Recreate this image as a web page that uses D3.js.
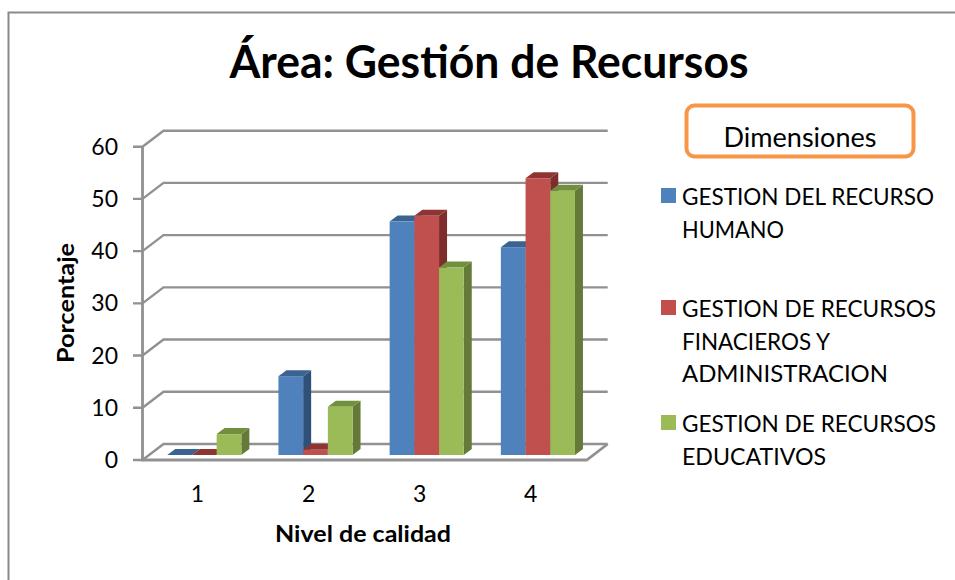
<!DOCTYPE html>
<html><head><meta charset="utf-8">
<script src="https://cdn.jsdelivr.net/npm/d3@7"></script>
<style>html,body{margin:0;background:#fff}svg{display:block}text{font-family:"Lato",sans-serif;fill:#000}</style>
</head><body><svg id="c" width="955" height="580"></svg>
<script>
const categories = ["1","2","3","4"];
const seriesNames = ["GESTION DEL RECURSO HUMANO","GESTION DE RECURSOS FINACIEROS Y ADMINISTRACION","GESTION DE RECURSOS EDUCATIVOS"];
const recursoHumano = [0,15.1,44.7,39.8];
const recursosFinancieros = [0,1,45.8,53];
const recursosEducativos = [4,9.25,35.9,50.6];
const yTicks = [0,10,20,30,40,50,60];
const faces = [["#4f81bd","#3b6391","#2f5078"],["#c0504d","#8e3533","#7c2d2c"],["#9bbb59","#718f3d","#657a38"]];
const legendLines = [["GESTION DEL RECURSO","HUMANO"],["GESTION DE RECURSOS","FINACIEROS Y","ADMINISTRACION"],["GESTION DE RECURSOS","EDUCATIVOS"]];
const values = [recursoHumano,recursosFinancieros,recursosEducativos];

const svg = d3.select("#c");
const gray = "#919191";
svg.append("path").attr("d","M8.5,580V12.5H955").attr("fill","none").attr("stroke","#8a8a8a").attr("stroke-width",2);

const y = d3.scaleLinear().domain([0,60]).range([460,146.7]);
const x0 = d3.scaleBand().domain(categories).range([142.5,586.7]);
const xBars = d3.scaleBand().domain(categories).range([148.7,593.5]);
const barW = 24.7, bx = 8, by = 6, wx = 21, wy = 16;
const base = 455;
const vy = v => y(v) - (460 - base);

yTicks.forEach(t=>{
  const yy=y(t);
  svg.append("path").attr("d",`M133,${yy}H142.5L${142.5+wx},${yy-wy}H${586.7+wx}`)
    .attr("fill","none").attr("stroke",gray).attr("stroke-width",2.4);
  svg.append("text").attr("x",118).attr("y",yy+8).attr("text-anchor","end").attr("font-size",23).text(t);
});
svg.append("path").attr("d",`M142.5,146.7V460H586.7L${586.7+wx},${460-wy}`).attr("fill","none").attr("stroke",gray).attr("stroke-width",2.8);

categories.forEach((c,i)=>{
  values.forEach((vals,s)=>{
    const l = xBars(c)+(xBars.bandwidth()-3*barW)/2+s*barW, r=l+barW, t=vy(vals[i]), b=base;
    const g = svg.append("g");
    g.append("polygon").attr("points",`${r},${t} ${r+bx},${t-by} ${r+bx},${b-by} ${r},${b}`).attr("fill",faces[s][2]);
    g.append("polygon").attr("points",`${l},${t} ${l+bx},${t-by} ${r+bx},${t-by} ${r},${t}`).attr("fill",faces[s][1]);
    g.append("rect").attr("x",l).attr("y",t).attr("width",barW).attr("height",b-t).attr("fill",faces[s][0]);
  });
});

categories.forEach(c=>{
  svg.append("text").attr("x",x0(c)+x0.bandwidth()/2-0.5).attr("y",502).attr("text-anchor","middle").attr("font-size",23).text(c);
});

svg.append("text").attr("x",489).attr("y",78).attr("text-anchor","middle").attr("font-size",46).attr("font-weight",700)
  .attr("textLength",519).attr("lengthAdjust","spacingAndGlyphs").text("Área: Gestión de Recursos");
svg.append("text").attr("x",363).attr("y",542).attr("text-anchor","middle").attr("font-size",23).attr("font-weight",700)
  .attr("textLength",176).attr("lengthAdjust","spacingAndGlyphs").text("Nivel de calidad");
svg.append("text").attr("transform","translate(74,303) rotate(-90)").attr("text-anchor","middle").attr("font-size",23).attr("font-weight",700)
  .attr("textLength",120).attr("lengthAdjust","spacingAndGlyphs").text("Porcentaje");

svg.append("rect").attr("x",686.5).attr("y",105.5).attr("width",227).attr("height",51).attr("rx",8)
  .attr("fill","#fff").attr("stroke","#f79646").attr("stroke-width",4);
svg.append("text").attr("x",800).attr("y",147).attr("text-anchor","middle").attr("font-size",27)
  .attr("textLength",153).attr("lengthAdjust","spacingAndGlyphs").text("Dimensiones");

const legendY=[188,300,415], legendW=[[252,102],[254,148,206],[254,144]];
seriesNames.forEach((n,s)=>{
  svg.append("rect").attr("x",661).attr("y",legendY[s]).attr("width",15).attr("height",15).attr("fill",faces[s][0]);
  legendLines[s].forEach((ln,k)=>{
    svg.append("text").attr("x",682).attr("y",legendY[s]+17+k*32.5).attr("font-size",23)
      .attr("textLength",legendW[s][k]).attr("lengthAdjust","spacingAndGlyphs").text(ln);
  });
});
</script></body></html>
